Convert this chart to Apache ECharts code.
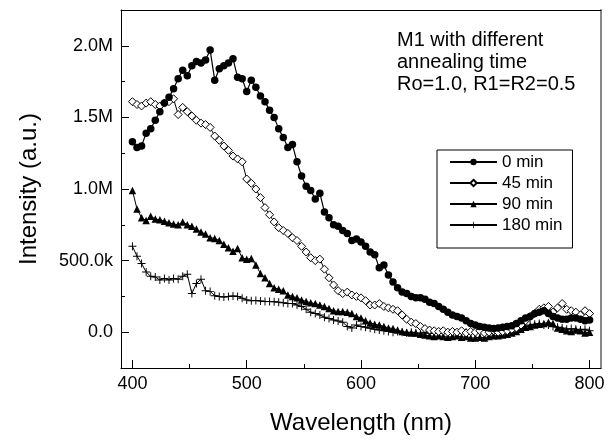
<!DOCTYPE html>
<html>
<head>
<meta charset="utf-8">
<script src="https://cdn.jsdelivr.net/npm/echarts@6/dist/echarts.min.js"></script>
<style>html,body{margin:0;padding:0;background:#fff}#c{width:608px;height:441px}</style>
</head>
<body>
<div id="c"></div>
<script>
var wavelengths = [400,404,408,412,416,420,424,428,432,436,440,444,448,452,456,460,464,468,472,476,480,484,488,492,496,500,504,508,512,516,520,524,528,532,536,540,544,548,552,556,560,564,568,572,576,580,584,588,592,596,600,604,608,612,616,620,624,628,632,636,640,644,648,652,656,660,664,668,672,676,680,684,688,692,696,700,704,708,712,716,720,724,728,732,736,740,744,748,752,756,760,764,768,772,776,780,784,788,792,796,800];
// intensities in millions (a.u.)
var min0 = [1.33,1.29,1.30,1.39,1.42,1.48,1.54,1.60,1.64,1.70,1.77,1.83,1.79,1.86,1.89,1.88,1.90,1.97,1.76,1.84,1.86,1.88,1.91,1.78,1.77,1.68,1.76,1.71,1.65,1.61,1.55,1.50,1.42,1.36,1.29,1.31,1.19,1.09,1.02,0.99,0.93,0.97,0.84,0.80,0.75,0.74,0.71,0.69,0.64,0.65,0.63,0.60,0.56,0.54,0.45,0.47,0.40,0.35,0.31,0.28,0.27,0.25,0.24,0.24,0.23,0.21,0.20,0.18,0.16,0.14,0.12,0.11,0.10,0.08,0.06,0.05,0.04,0.035,0.03,0.025,0.03,0.035,0.04,0.045,0.06,0.08,0.10,0.11,0.13,0.14,0.15,0.13,0.11,0.10,0.09,0.09,0.10,0.10,0.09,0.08,0.085];
var min45 = [1.61,1.59,1.58,1.60,1.61,1.59,1.58,1.60,1.61,1.63,1.52,1.57,1.54,1.51,1.48,1.46,1.45,1.43,1.37,1.34,1.30,1.27,1.23,1.21,1.19,1.07,1.04,1.00,0.94,0.87,0.82,0.77,0.73,0.71,0.69,0.66,0.64,0.60,0.56,0.52,0.50,0.51,0.44,0.38,0.33,0.29,0.27,0.28,0.26,0.25,0.24,0.22,0.19,0.19,0.20,0.18,0.17,0.16,0.15,0.12,0.09,0.07,0.06,0.04,0.025,0.015,0.01,0.005,0.01,0.0,0.005,0.0,0.01,-0.005,0.005,0.0,0.01,-0.005,0.0,0.01,0.0,0.005,0.01,0.02,0.03,0.05,0.08,0.11,0.13,0.16,0.17,0.18,0.14,0.17,0.20,0.16,0.15,0.14,0.12,0.15,0.13];
var min90 = [0.99,0.86,0.80,0.78,0.81,0.79,0.785,0.775,0.765,0.755,0.75,0.77,0.75,0.74,0.72,0.70,0.685,0.66,0.655,0.64,0.615,0.59,0.565,0.585,0.52,0.51,0.515,0.47,0.41,0.38,0.34,0.31,0.30,0.29,0.26,0.25,0.24,0.225,0.215,0.205,0.20,0.19,0.18,0.165,0.15,0.145,0.145,0.14,0.13,0.11,0.10,0.08,0.065,0.055,0.05,0.04,0.03,0.025,0.015,0.005,0.0,-0.005,-0.005,-0.015,-0.02,-0.025,-0.03,-0.025,-0.03,-0.035,-0.03,-0.025,-0.035,-0.03,-0.04,-0.04,-0.035,-0.04,-0.03,-0.025,-0.025,-0.02,-0.015,-0.005,0.005,0.02,0.035,0.04,0.05,0.055,0.06,0.07,0.06,0.03,0.02,0.01,0.005,0.015,0.01,-0.005,0.0];
var min180 = [0.60,0.53,0.48,0.42,0.39,0.385,0.365,0.375,0.365,0.375,0.37,0.39,0.405,0.27,0.34,0.37,0.29,0.285,0.255,0.25,0.245,0.25,0.253,0.25,0.237,0.225,0.22,0.222,0.218,0.214,0.214,0.212,0.21,0.205,0.20,0.20,0.19,0.18,0.16,0.14,0.13,0.12,0.105,0.095,0.085,0.078,0.07,0.04,0.03,0.05,0.04,0.035,0.028,0.02,0.015,0.01,0.005,0.0,0.005,0.0,-0.005,0.0,-0.005,-0.01,0.0,-0.01,-0.005,0.0,-0.01,-0.005,0.0,-0.01,-0.005,0.0,-0.01,-0.005,-0.01,0.0,-0.005,0.0,0.0,0.005,0.01,0.015,0.02,0.03,0.04,0.05,0.055,0.06,0.05,0.05,0.04,0.035,0.03,0.02,0.025,0.02,0.015,0.02,0.01];
var seriesNames = ['0 min','45 min','90 min','180 min'];
var xMajorTicks = [400,500,600,700,800];
var xMinorTicks = [450,550,650,750];
var yMajorTicks = [0,0.5,1.0,1.5,2.0];
var yMinorTicks = [0.25,0.75,1.25,1.75];
var noteLines = ['M1 with different','annealing time','Ro=1.0, R1=R2=0.5'];

function pairs(ys){ return wavelengths.map(function(x,i){ return [x, ys[i]]; }); }
function yFmt(v){
  if (Math.abs(v) < 1e-9) return '0.0';
  if (v < 1) return (v*1000).toFixed(1) + 'k';
  return v.toFixed(1) + 'M';
}
var FONT = 'Liberation Sans, Arial, sans-serif';
var plusPath = 'path://M4.4,0 H5.6 V4.4 H10 V5.6 H5.6 V10 H4.4 V5.6 H0 V4.4 H4.4 Z';
var grid = {left:121, right:7, top:10, bottom:73};

var chart = echarts.init(document.getElementById('c'), null, {renderer:'canvas'});
chart.setOption({
  animation:false,
  backgroundColor:'#fff',
  grid: grid,
  legend: {
    orient:'vertical', left:437, top:150,
    data: seriesNames,
    itemWidth:47, itemHeight:8, itemGap:3,
    padding:[3,10,14,12],
    borderColor:'#000', borderWidth:1,
    textStyle:{fontFamily:FONT, fontSize:17, color:'#000', lineHeight:18}
  },
  graphic: [{
    type:'text', left:397, top:29,
    style:{text: noteLines.join('\n'), font:'20px ' + FONT, fill:'#000', lineHeight:22}
  }],
  xAxis: [{
    type:'value', min:390, max:810, position:'bottom',
    name:'Wavelength (nm)', nameLocation:'middle', nameGap:43,
    nameTextStyle:{fontFamily:FONT, fontSize:24, color:'#000'},
    axisLine:{show:true, onZero:false, lineStyle:{color:'#000', width:1}},
    axisTick:{show:true, inside:true, length:8, customValues:xMajorTicks, lineStyle:{color:'#000'}},
    axisLabel:{show:true, customValues:xMajorTicks, margin:7, fontFamily:FONT, fontSize:18, color:'#000'},
    splitLine:{show:false}
  },{
    type:'value', min:390, max:810, position:'bottom',
    axisLine:{show:false, onZero:false}, axisLabel:{show:false}, splitLine:{show:false},
    axisTick:{show:true, inside:true, length:4, customValues:xMinorTicks, lineStyle:{color:'#000'}}
  },{
    type:'value', min:390, max:810, position:'top',
    axisLine:{show:true, onZero:false, lineStyle:{color:'#000', width:1}},
    axisTick:{show:false}, axisLabel:{show:false}, splitLine:{show:false}
  }],
  yAxis: [{
    type:'value', min:-0.25, max:2.25, position:'left',
    name:'Intensity (a.u.)', nameLocation:'middle', nameGap:80,
    nameTextStyle:{fontFamily:FONT, fontSize:24, color:'#000'},
    axisLine:{show:true, onZero:false, lineStyle:{color:'#000', width:1}},
    axisTick:{show:true, inside:true, length:8, customValues:yMajorTicks, lineStyle:{color:'#000'}},
    axisLabel:{show:true, customValues:yMajorTicks, margin:8, fontFamily:FONT, fontSize:18, color:'#000', formatter:yFmt},
    splitLine:{show:false}
  },{
    type:'value', min:-0.25, max:2.25, position:'left',
    axisLine:{show:false, onZero:false}, axisLabel:{show:false}, splitLine:{show:false},
    axisTick:{show:true, inside:true, length:4, customValues:yMinorTicks, lineStyle:{color:'#000'}}
  },{
    type:'value', min:-0.25, max:2.25, position:'right',
    axisLine:{show:true, onZero:false, lineStyle:{color:'#888', width:2}},
    axisTick:{show:false}, axisLabel:{show:false}, splitLine:{show:false}
  }],
  series: [{
    name:seriesNames[3], type:'line', data:pairs(min180),
    symbol:plusPath, symbolSize:8, showAllSymbol:true,
    lineStyle:{color:'#000', width:1}, itemStyle:{color:'#000', borderWidth:0}
  },{
    name:seriesNames[2], type:'line', data:pairs(min90),
    symbol:'triangle', symbolSize:7.5, showAllSymbol:true,
    lineStyle:{color:'#000', width:1}, itemStyle:{color:'#000', borderWidth:0}
  },{
    name:seriesNames[1], type:'line', data:pairs(min45),
    symbol:'diamond', symbolSize:8, showAllSymbol:true,
    lineStyle:{color:'#000', width:1}, itemStyle:{color:'#fff', borderColor:'#000', borderWidth:1}
  },{
    name:seriesNames[0], type:'line', data:pairs(min0),
    symbol:'circle', symbolSize:7.5, showAllSymbol:true,
    lineStyle:{color:'#000', width:1.2}, itemStyle:{color:'#000', borderWidth:0}
  }]
});
</script>
</body>
</html>
